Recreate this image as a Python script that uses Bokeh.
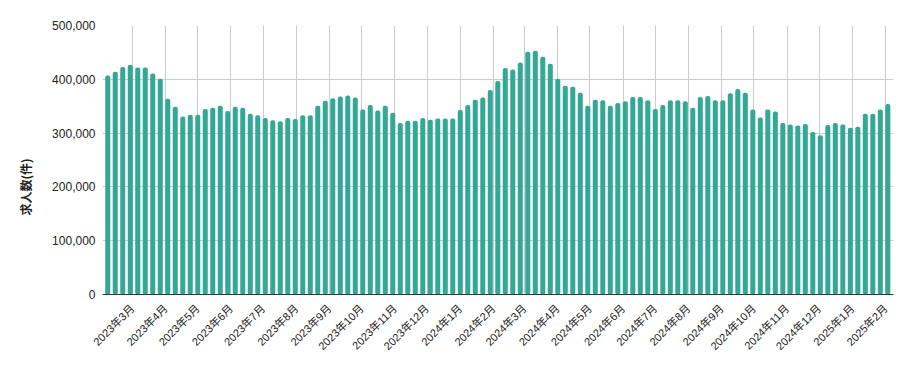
import math
import pandas as pd
from bokeh.plotting import figure
from bokeh.models import (ColumnDataSource, Range1d, MonthsTicker, DatetimeTickFormatter,
                          NumeralTickFormatter, FixedTicker, Title)
from bokeh.embed import file_html
from bokeh.resources import INLINE

# ---- data ----
first_week = "2023-02-06"
values = [
    407000, 414000, 423000, 427000, 422000, 422000, 411000, 401000, 364000, 349000,
    331000, 334000, 334000, 345000, 347000, 351000, 341000, 349000, 347000, 336000,
    333000, 328000, 324000, 322000, 328000, 326000, 333000, 333000, 351000, 360000,
    365000, 368000, 370000, 366000, 344000, 352000, 342000, 351000, 338000, 319000,
    323000, 323000, 328000, 325000, 327000, 327000, 327000, 343000, 352000, 362000,
    366000, 380000, 397000, 421000, 418000, 431000, 451000, 453000, 442000, 429000,
    401000, 388000, 386000, 375000, 351000, 362000, 361000, 351000, 356000, 359000,
    367000, 367000, 361000, 345000, 352000, 361000, 361000, 359000, 347000, 367000,
    369000, 361000, 361000, 374000, 382000, 375000, 344000, 329000, 344000, 340000,
    319000, 316000, 314000, 317000, 302000, 296000, 315000, 319000, 316000, 310000,
    312000, 336000, 336000, 344000, 354000,
]
weeks = pd.date_range(first_week, periods=len(values), freq="7D")
y_ticks = [0, 100000, 200000, 300000, 400000, 500000]
y_title = "求人数(件)"
tick_format = "%Y年%-m月"

DAY = 86400000
src = ColumnDataSource(data=dict(week=weeks, count=values))

p = figure(width=911, height=371, x_axis_type="datetime",
           output_backend="svg", toolbar_location=None,
           min_border_left=102, min_border_right=18, min_border_top=25, min_border_bottom=77)
p.x_range = Range1d(weeks[0] - pd.Timedelta(days=4.9), weeks[-1] + pd.Timedelta(days=5.3))
p.y_range = Range1d(0, 500000)
p.outline_line_color = None
p.background_fill_color = "white"
p.border_fill_color = "white"

p.vbar(x="week", top="count", width=4.7 * DAY, source=src,
       fill_color="#34a897", line_color=None, border_radius=2)

font = "Liberation Sans, Noto Sans CJK JP"

xa = p.xaxis[0]
xa.ticker = MonthsTicker(months=list(range(1, 13)))
xa.formatter = DatetimeTickFormatter(days=tick_format, months=tick_format, years=tick_format)
xa.major_label_orientation = math.pi / 4
xa.major_label_text_font = font
xa.major_label_text_font_size = "11px"
xa.major_label_text_color = "#222222"
xa.major_tick_line_color = None
xa.minor_tick_line_color = None
xa.major_tick_out = 0
xa.major_label_standoff = 12
xa.axis_line_color = "#333333"

ya = p.yaxis[0]
ya.ticker = FixedTicker(ticks=y_ticks)
ya.formatter = NumeralTickFormatter(format="0,0")
ya.major_label_text_font = font
ya.major_label_text_font_size = "12px"
ya.major_label_text_color = "#222222"
ya.axis_line_color = None
ya.major_tick_line_color = None
ya.minor_tick_line_color = None
ya.major_tick_out = 0
ya.major_label_standoff = 7

p.add_layout(Title(text=y_title, align="left", offset=79, vertical_align="middle",
                   standoff=30, text_font="Noto Sans CJK JP", text_font_style="bold",
                   text_font_size="12px", text_color="#222222"), "left")

p.xgrid.grid_line_color = "#cccccc"
p.ygrid.grid_line_color = "#cccccc"

open("out.html", "w").write(file_html(p, INLINE))
